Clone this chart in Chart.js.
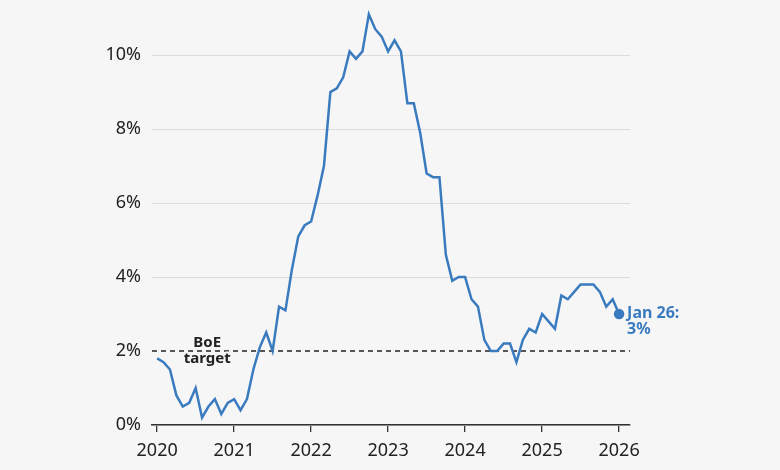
<!DOCTYPE html>
<html>
<head>
<meta charset="utf-8">
<script src="https://cdn.jsdelivr.net/npm/chart.js@4"></script>
<style>
  html, body { margin: 0; padding: 0; background: #f6f6f6; }
  #wrap { width: 780px; height: 470px; }
</style>
</head>
<body>
<div id="wrap"><canvas id="cpi"></canvas></div>
<script>
// UK CPI annual rate, monthly, Jan 2020 - Jan 2026
const years = [2020, 2021, 2022, 2023, 2024, 2025, 2026];
const cpi = [
  1.8, 1.7, 1.5, 0.8, 0.5, 0.6, 1.0, 0.2, 0.5, 0.7, 0.3, 0.6,
  0.7, 0.4, 0.7, 1.5, 2.1, 2.5, 2.0, 3.2, 3.1, 4.2, 5.1, 5.4,
  5.5, 6.2, 7.0, 9.0, 9.1, 9.4, 10.1, 9.9, 10.1, 11.1, 10.7, 10.5,
  10.1, 10.4, 10.1, 8.7, 8.7, 7.9, 6.8, 6.7, 6.7, 4.6, 3.9, 4.0,
  4.0, 3.4, 3.2, 2.3, 2.0, 2.0, 2.2, 2.2, 1.7, 2.3, 2.6, 2.5,
  3.0, 2.8, 2.6, 3.5, 3.4, 3.6, 3.8, 3.8, 3.8, 3.6, 3.2, 3.4,
  3.0
];
const yTicks = [0, 2, 4, 6, 8, 10];
const target = 2;
const targetLabel = ['BoE', 'target'];
const endLabel = ['Jan 26:', '3%'];

const BLUE = '#3a7bbf';
const BG = '#f6f6f6';
const FONT = '"Noto Sans", "Open Sans", sans-serif';
const last = cpi.length - 1;
const xMin = -0.8, xMax = 73.7;

const labelsPlugin = {
  id: 'labels',
  afterDatasetsDraw(chart) {
    const { ctx, scales: { x, y } } = chart;
    ctx.save();
    ctx.textBaseline = 'middle';
    ctx.lineJoin = 'round';

    // BoE target label with halo
    ctx.font = 'bold 15px ' + FONT;
    ctx.textAlign = 'center';
    const tx = x.getPixelForValue(7.8);
    const ty = y.getPixelForValue(target);
    targetLabel.forEach((t, i) => {
      const yy = ty - 8 + i * 16;
      ctx.strokeStyle = BG;
      ctx.lineWidth = 4;
      ctx.strokeText(t, tx, yy);
      ctx.fillStyle = '#222';
      ctx.fillText(t, tx, yy);
    });

    // end label
    ctx.font = 'bold 16px ' + FONT;
    ctx.textAlign = 'left';
    ctx.fillStyle = BLUE;
    const ex = x.getPixelForValue(last) + 8;
    const ey = y.getPixelForValue(cpi[last]);
    endLabel.forEach((t, i) => ctx.fillText(t, ex, ey - 1 + i * 16));
    ctx.restore();
  }
};

new Chart(document.getElementById('cpi'), {
  type: 'line',
  data: {
    datasets: [
      {
        data: cpi.map((v, i) => ({ x: i, y: v })),
        borderColor: BLUE,
        backgroundColor: BLUE,
        borderWidth: 2.5,
        tension: 0,
        clip: false,
        pointRadius: c => c.dataIndex === last ? 4 : 0,
        pointHoverRadius: 0,
        order: 1
      },
      {
        data: [{ x: xMin, y: target }, { x: xMax, y: target }],
        borderColor: '#222',
        borderWidth: 1.3,
        borderDash: [5, 4],
        pointRadius: 0,
        order: 2
      }
    ]
  },
  options: {
    responsive: true,
    maintainAspectRatio: false,
    animation: false,
    layout: { padding: { top: 0, right: 150, left: 0, bottom: 0 } },
    plugins: { legend: { display: false }, tooltip: { enabled: false } },
    scales: {
      x: {
        type: 'linear',
        min: xMin,
        max: xMax,
        afterBuildTicks: s => { s.ticks = years.map((yr, i) => ({ value: i * 12 })); },
        afterFit: s => { s.height = 45; },
        ticks: {
          callback: v => years[Math.round(v / 12)],
          color: '#222',
          font: { family: FONT, size: 18 },
          padding: 8,
          maxRotation: 0,
          autoSkip: false
        },
        grid: { drawOnChartArea: false, drawTicks: true, tickLength: 7, color: '#333', lineWidth: 1.3 },
        border: { display: true, color: '#333', width: 1.5 }
      },
      y: {
        min: 0,
        max: 10.9,
        afterBuildTicks: s => { s.ticks = yTicks.map(v => ({ value: v })); },
        afterFit: s => { s.width = 152; },
        ticks: {
          callback: v => v + '%',
          color: '#222',
          font: { family: FONT, size: 18 },
          padding: 11
        },
        grid: {
          drawTicks: false,
          color: c => (c.tick && c.tick.value === target) ? 'rgba(0,0,0,0)' : '#dcdcdc',
          lineWidth: 1
        },
        border: { display: false }
      }
    }
  },
  plugins: [labelsPlugin]
});
</script>
</body>
</html>
